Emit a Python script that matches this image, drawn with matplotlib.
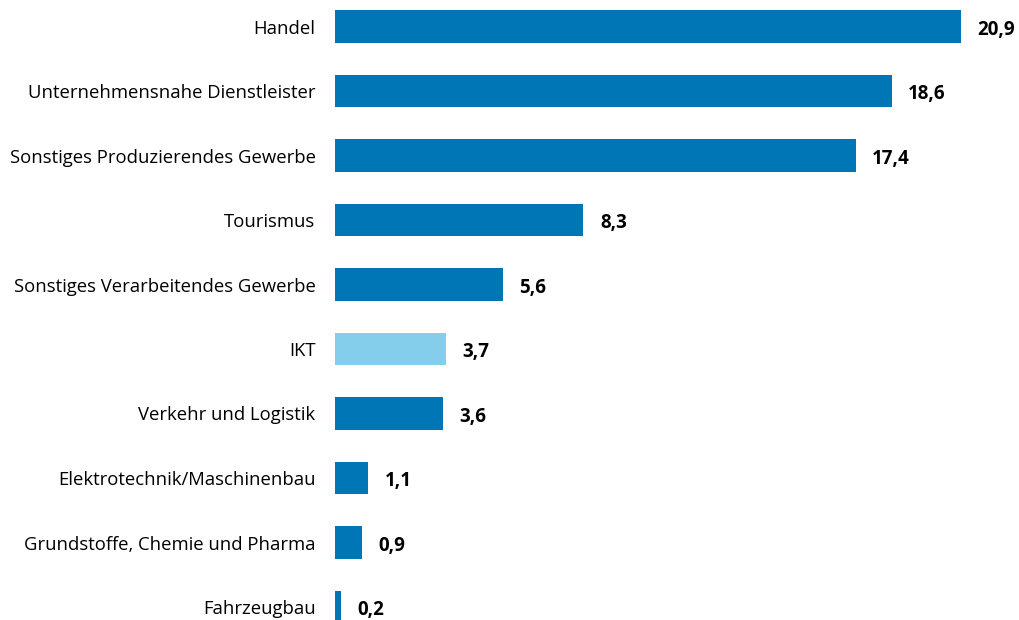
import matplotlib.pyplot as plt

plt.rcParams['font.family'] = ['Open Sans', 'DejaVu Sans']

categories = ['Handel', 'Unternehmensnahe Dienstleister', 'Sonstiges Produzierendes Gewerbe',
              'Tourismus', 'Sonstiges Verarbeitendes Gewerbe', 'IKT', 'Verkehr und Logistik',
              'Elektrotechnik/Maschinenbau', 'Grundstoffe, Chemie und Pharma', 'Fahrzeugbau']
values = [20.9, 18.6, 17.4, 8.3, 5.6, 3.7, 3.6, 1.1, 0.9, 0.2]
labels = ['20,9', '18,6', '17,4', '8,3', '5,6', '3,7', '3,6', '1,1', '0,9', '0,2']

dark = '#0076b6'
light = '#84cdeb'
colors = [light if c == 'IKT' else dark for c in categories]

fig = plt.figure(figsize=(10.2, 6.2), dpi=100)
ax = fig.add_axes([335/1020, 0, 685/1020, 1])

ypos = list(range(len(categories)))
ax.barh(ypos, values, height=0.5, color=colors)
for y, v, t in zip(ypos, values, labels):
    ax.text(v + 0.55, y + 0.05, t, va='center', ha='left', fontsize=13.5, fontweight='bold')

ax.set_xlim(0, 685/29.93)
ax.set_ylim(9 + 13/64.5, -26.5/64.5)
ax.set_yticks(ypos)
ax.set_yticklabels(categories, fontsize=13.3)
ax.tick_params(axis='y', length=0, pad=14)
ax.set_xticks([])
for s in ax.spines.values():
    s.set_visible(False)

fig.savefig('out.png', dpi=100)
